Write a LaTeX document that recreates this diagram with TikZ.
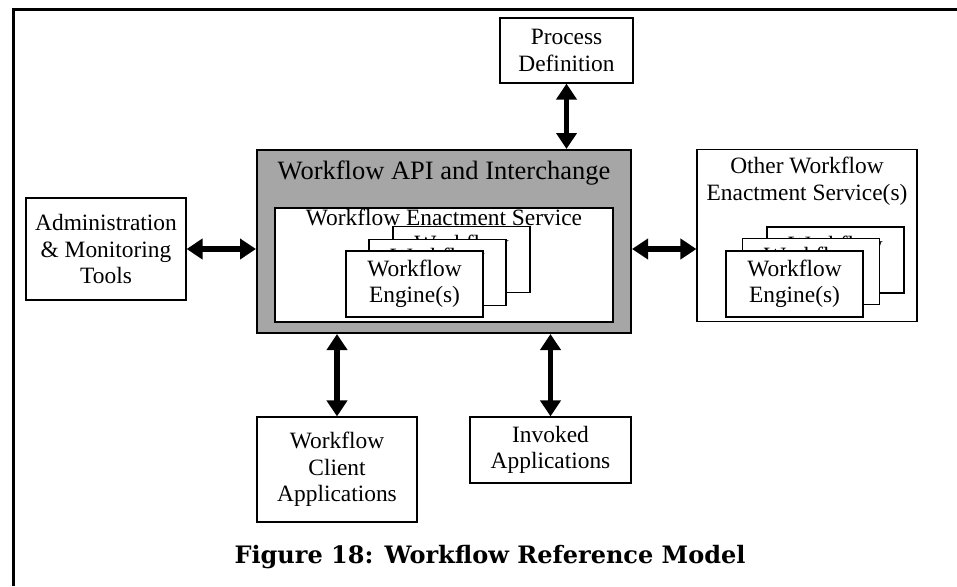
\documentclass[tikz,border=0pt]{standalone}
\usepackage{fontspec}
\setmainfont{Liberation Serif}
\newfontfamily\capfont{DejaVu Serif}
\usetikzlibrary{arrows.meta}

\definecolor{apigray}{RGB}{166,166,166}
\tikzset{
  boxtext/.style={font=\fontsize{23.4}{26.5}\selectfont},
  box/.style={draw,line width=1.2pt,fill=white,inner sep=0pt,align=center,boxtext},
  engine/.style={box,minimum width=137pt,minimum height=66pt},
  link/.style={line width=5.5pt,{Triangle[width=20pt,length=16pt]}-{Triangle[width=20pt,length=16pt]}},
}

\begin{document}
\begin{tikzpicture}[x=1pt,y=-1pt]
  \useasboundingbox (0,0) rectangle (957,586);
  \draw [line width=3pt] (13,586) -- (13,10) -- (957,10);

  % outer boxes
  \node [box,minimum width=133pt,minimum height=65pt] (pd) at (566.5,50.5) {Process\\Definition};
  \node [box,minimum width=160pt,minimum height=102pt] (adm) at (106,249) {Administration\\\& Monitoring\\Tools};
  \node [box,minimum width=160pt,minimum height=105pt] (wca) at (337,469.5) {Workflow\\Client\\Applications};
  \node [box,minimum width=161pt,minimum height=66pt] (inv) at (550.5,450) {Invoked\\Applications};

  % central service
  \node [draw,line width=2pt,fill=apigray,minimum width=374pt,minimum height=183pt,inner sep=0pt,
         label={[anchor=north,yshift=-12pt,inner sep=0pt,font=\fontsize{26.5}{30}\selectfont]north:Workflow API and Interchange}]
        (api) at (444,241.5) {};
  \node [box,minimum width=338pt,minimum height=114pt,
         label={[anchor=north,yshift=-1.5pt,inner sep=0pt,boxtext]north:Workflow Enactment Service}]
        (wes) at (444,265) {};
  \node [engine] (eng3) at (461.5,259.5) {Workflow\\Engine(s)};
  \node [engine] (eng2) at (437.5,272.5) {Workflow\\Engine(s)};
  \node [engine] (eng1) at (414.5,284) {Workflow\\Engine(s)};

  % other enactment services
  \node [box,minimum width=220pt,minimum height=172pt,
         label={[anchor=north,yshift=-8pt,inner sep=0pt,align=center,boxtext]north:Other Workflow\\Enactment Service(s)}]
        (oth) at (807,235.5) {};
  \node [engine] (oeng3) at (835.5,260) {Workflow\\Engine(s)};
  \node [engine] (oeng2) at (811,271.5) {Workflow\\Engine(s)};
  \node [engine] (oeng1) at (794.5,284) {Workflow\\Engine(s)};

  % interfaces
  \draw [link] (pd.south) -- (pd.south |- api.north);
  \draw [link] (adm.east) -- (adm.east -| api.west);
  \draw [link] (api.east |- adm.east) -- (oth.west |- adm.east);
  \draw [link] (wca.north) -- (wca.north |- api.south);
  \draw [link] (inv.north) -- (inv.north |- api.south);

  \node [font=\capfont\bfseries\fontsize{24}{28}\selectfont] (caption) at (490,557) {Figure 18: Workflow Reference Model};
\end{tikzpicture}
\end{document}
